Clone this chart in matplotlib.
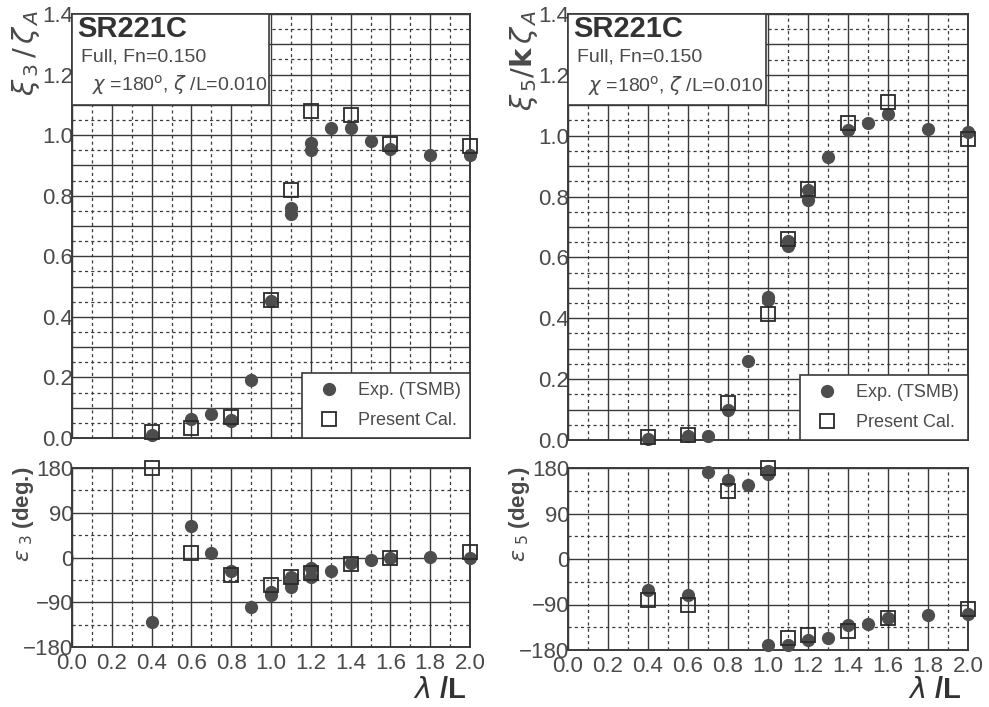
import matplotlib
matplotlib.use("Agg")
import matplotlib.pyplot as plt
from matplotlib.ticker import MultipleLocator, FuncFormatter
from matplotlib.lines import Line2D

plt.rcParams['font.family'] = ['Liberation Sans', 'DejaVu Sans']

# ---------------- data ----------------
# Heave amplitude xi3/zetaA
h_exp_x = [0.4, 0.6, 0.7, 0.8, 0.8, 0.9, 1.0, 1.1, 1.1, 1.2, 1.2, 1.3, 1.4, 1.5, 1.6, 1.8, 2.0]
h_exp_y = [0.011, 0.064, 0.079, 0.060, 0.055, 0.19, 0.453, 0.76, 0.74, 0.975, 0.95, 1.023, 1.025, 0.98, 0.955, 0.933, 0.935]
h_cal_x = [0.4, 0.6, 0.8, 1.0, 1.1, 1.2, 1.4, 1.6, 2.0]
h_cal_y = [0.019, 0.033, 0.069, 0.456, 0.82, 1.08, 1.067, 0.97, 0.965]

# Pitch amplitude xi5/(k zetaA)
p_exp_x = [0.4, 0.6, 0.7, 0.8, 0.9, 1.0, 1.0, 1.1, 1.1, 1.2, 1.2, 1.3, 1.4, 1.5, 1.6, 1.8, 2.0]
p_exp_y = [0.003, 0.014, 0.014, 0.097, 0.26, 0.46, 0.47, 0.654, 0.637, 0.82, 0.79, 0.93, 1.018, 1.043, 1.073, 1.023, 1.012]
p_cal_x = [0.4, 0.6, 0.8, 1.0, 1.1, 1.2, 1.4, 1.6, 2.0]
p_cal_y = [0.010, 0.015, 0.12, 0.413, 0.66, 0.825, 1.042, 1.11, 0.99]

# Heave phase eps3 (deg)
e3_exp_x = [0.4, 0.6, 0.7, 0.8, 0.9, 1.0, 1.0, 1.1, 1.1, 1.1, 1.2, 1.2, 1.3, 1.4, 1.5, 1.6, 1.8, 2.0]
e3_exp_y = [-130, 64, 10, -27, -99, -76, -69, -49, -59, -40, -22, -39, -28, -12, -5, -1, 2, 0]
e3_cal_x = [0.4, 0.6, 0.8, 1.0, 1.1, 1.2, 1.4, 1.6, 2.0]
e3_cal_y = [180, 10, -35, -55, -39, -32, -13, -1, 11]

# Pitch phase eps5 (deg)
e5_exp_x = [0.4, 0.6, 0.7, 0.8, 0.9, 1.0, 1.0, 1.0, 1.1, 1.2, 1.3, 1.4, 1.5, 1.6, 1.8, 2.0]
e5_exp_y = [-61, -72, 173, 157, 146, 169, 174, -170, -170, -160, -157, -131, -128, -116, -110, -108]
e5_cal_x = [0.4, 0.6, 0.8, 1.0, 1.1, 1.2, 1.4, 1.6, 2.0]
e5_cal_y = [-82, -90, 134, 180, -157, -151, -142, -116, -99]

x_ticks = [0.0, 0.2, 0.4, 0.6, 0.8, 1.0, 1.2, 1.4, 1.6, 1.8, 2.0]

# ---------------- style ----------------
INK = "#3a3a3a"
TXT = "#4a4a4a"
MK = "#4d4d4d"

fig = plt.figure(figsize=(9.89, 7.07), dpi=100)
fig.patch.set_facecolor("white")

def W(px): return px / 989
def H(px): return px / 707

ax_tl = fig.add_axes([W(72), 1 - H(438), W(398), H(424)])
ax_bl = fig.add_axes([W(72), 1 - H(647), W(398), H(179)])
ax_tr = fig.add_axes([W(568), 1 - H(440), W(400), H(426)])
ax_br = fig.add_axes([W(568), 1 - H(650), W(400), H(182)])


def style_grid(ax, ymaj, ymin, lab_step, fmt):
    ax.set_xlim(0, 2.0)
    ax.xaxis.set_major_locator(MultipleLocator(0.2))
    ax.xaxis.set_minor_locator(MultipleLocator(0.1))
    ax.yaxis.set_major_locator(MultipleLocator(ymaj))
    ax.yaxis.set_minor_locator(MultipleLocator(ymin))
    ax.grid(which="major", color=INK, linewidth=1.0, linestyle="-")
    ax.grid(which="minor", color=INK, linewidth=0.9, linestyle=(0, (2.5, 2.5)))
    ax.set_axisbelow(True)
    for s in ax.spines.values():
        s.set_color(INK)
        s.set_linewidth(1.4)

    def f(v, pos):
        k = round(v / lab_step, 6)
        if abs(k - round(k)) < 1e-6:
            return fmt(v)
        return ""
    ax.yaxis.set_major_formatter(FuncFormatter(f))
    ax.tick_params(which="both", length=0)
    ax.tick_params(axis="y", labelsize=16, labelcolor=TXT, pad=-1)
    ax.tick_params(axis="x", labelsize=16, labelcolor=TXT, pad=4)


def amp_fmt(v):
    return f"{v:.1f}"


def deg_fmt(v):
    s = f"{int(round(v))}"
    return s.replace("-", "\u2212")


def plot_series(ax, ex, ey, cx, cy):
    ax.plot(ex, ey, linestyle="none", marker="o", markersize=8.5,
            markerfacecolor=MK, markeredgecolor=MK, zorder=3, clip_on=False)
    ax.plot(cx, cy, linestyle="none", marker="s", markersize=10,
            markerfacecolor="none", markeredgecolor="#2a2a2a",
            markeredgewidth=1.3, zorder=4, clip_on=False)


for ax in (ax_tl, ax_tr):
    style_grid(ax, 0.1, 0.05, 0.2, amp_fmt)
    ax.set_ylim(0, 1.4)
    ax.set_xticks(x_ticks)
    ax.set_xticklabels([])

for ax in (ax_bl, ax_br):
    style_grid(ax, 90, 45, 90, deg_fmt)
    ax.set_ylim(-180, 180)
    ax.set_xticks(x_ticks)
    ax.set_xticklabels([f"{v:.1f}" for v in x_ticks])

plot_series(ax_tl, h_exp_x, h_exp_y, h_cal_x, h_cal_y)
plot_series(ax_tr, p_exp_x, p_exp_y, p_cal_x, p_cal_y)
plot_series(ax_bl, e3_exp_x, e3_exp_y, e3_cal_x, e3_cal_y)
plot_series(ax_br, e5_exp_x, e5_exp_y, e5_cal_x, e5_cal_y)

# info boxes and legends
for ax in (ax_tl, ax_tr):
    box = plt.Rectangle((0, 1.1), 0.99, 0.3, transform=ax.transData,
                        facecolor="white", edgecolor=INK, linewidth=1.2, zorder=5)
    ax.add_patch(box)
    ax.text(0.025, 1.35, "SR221C", fontsize=21, fontweight="bold", color="#333333",
            va="center", ha="left", zorder=6)
    ax.text(0.045, 1.258, "Full, Fn=0.150", fontsize=14, color=TXT,
            va="center", ha="left", zorder=6)
    ax.text(0.1, 1.165, r"$\chi$ =180$^{\rm o}$, $\zeta$ /L=0.010", fontsize=14,
            color=TXT, va="center", ha="left", zorder=6)

    handles = [Line2D([], [], linestyle="none", marker="o", markersize=8.5,
                      markerfacecolor=MK, markeredgecolor=MK),
               Line2D([], [], linestyle="none", marker="s", markersize=10,
                      markerfacecolor="white", markeredgecolor="#2a2a2a",
                      markeredgewidth=1.3)]
    leg = ax.legend(handles, ["Exp. (TSMB)", "Present Cal."], loc="lower right",
                    bbox_to_anchor=(1.0, 0.0), fontsize=13, frameon=True,
                    fancybox=False, borderpad=0.5, labelspacing=0.7,
                    handletextpad=0.6, borderaxespad=0.0, labelcolor=TXT)
    leg.get_frame().set_edgecolor(INK)
    leg.get_frame().set_linewidth(1.2)
    leg.get_frame().set_alpha(1)
    leg.set_zorder(6)

# axis labels
fig.text(W(26), 1 - H(10), r"$\xi_{\,3}\,/\,\zeta_{\,A}$", rotation=90, fontsize=21,
         color=TXT, ha="center", va="top")
fig.text(W(524), 1 - H(10), r"$\xi_{\,5}/\mathbf{k}\,\zeta_{\,A}$", rotation=90, fontsize=21,
         color=TXT, ha="center", va="top")
fig.text(W(24), 1 - H(467), r"$\varepsilon$$_{\ 3}$ (deg.)", rotation=90, fontsize=16,
         fontweight="bold", color=TXT, ha="center", va="top")
fig.text(W(520), 1 - H(467), r"$\varepsilon$$_{\ 5}$ (deg.)", rotation=90, fontsize=16,
         fontweight="bold", color=TXT, ha="center", va="top")
fig.text(W(440), 1 - H(690), r"$\lambda$ /L", fontsize=21, fontweight="bold",
         color="#333333", ha="center", va="center")
fig.text(W(935), 1 - H(690), r"$\lambda$ /L", fontsize=21, fontweight="bold",
         color="#333333", ha="center", va="center")

fig.savefig("out.png", dpi=100, facecolor="white")
